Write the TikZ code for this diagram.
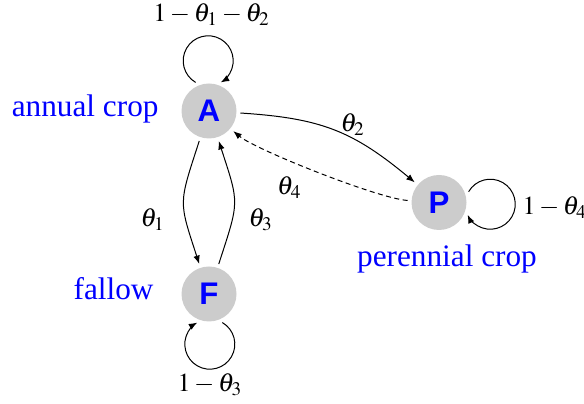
\documentclass[tikz,border=0pt]{standalone}
\usepackage{mathptmx}
\usepackage{fontspec}
\setmainfont{Liberation Serif}
\setsansfont{Liberation Sans}
\usetikzlibrary{arrows.meta}
\begin{document}
\begin{tikzpicture}[x=0.4pt,y=0.4pt,
  state/.style={circle, fill=black!20, minimum size=22pt, inner sep=0pt, outer sep=1.6pt,
    text=blue, font=\fontsize{12.5}{15}\selectfont\sffamily\bfseries},
  place/.style={text=blue, inner sep=0pt, font=\fontsize{12.5}{15}\selectfont},
  prob/.style={inner sep=0pt, font=\fontsize{10.4}{12}\selectfont},
  trans/.style={line width=0.4pt, -{Latex[length=3.4pt,width=2.6pt]}},
  back/.style={trans, dash pattern=on 2pt off 1.4pt}
]
\useasboundingbox (0,0) rectangle (584,404);
% states
\node[state] (A) at (209,293) {A};
\node[state] (F) at (209,110) {F};
\node[state] (P) at (439,201.5) {P};
% place labels
\node[place, anchor=base east] (lannual) at (159,287.5) {annual crop};
\node[place, anchor=base east] (lfallow) at (154,104) {fallow};
\node[place, anchor=base] (lperennial) at (447,137.3) {perennial crop};
% transitions
\draw[trans] (A) to[bend left=18, looseness=1.1] (P);
\draw[back] (P) to[bend left=18, looseness=0.4] (A);
\draw[trans] (A) to[bend right=18, looseness=1.4] (F);
\draw[trans] (F) to[bend right=18, looseness=1.4] (A);
% self loops
\draw[trans] (A.115) arc[start angle=240, end angle=-60, radius=10pt];
\draw[trans] (F.-65) arc[start angle=60, end angle=-240, radius=10pt];
\draw[trans] (P.20) arc[start angle=150, end angle=-155, radius=10pt];
% probabilities
\node[prob, anchor=base] (pAA) at (211.7,382.3) {$1-\theta_1-\theta_2$};
\node[prob, anchor=base] (pFF) at (210,12.3) {$1-\theta_3$};
\node[prob, anchor=base west] (pPP) at (522,189) {$1-\theta_4$};
\node[prob, anchor=base west] (pAF) at (140,177.3) {$\theta_1$};
\node[prob, anchor=base west] (pFA) at (248,177.3) {$\theta_3$};
\node[prob, anchor=base west] (pAP) at (340,272.3) {$\theta_2$};
\node[prob, anchor=base west] (pPA) at (276.7,209) {$\theta_4$};
\end{tikzpicture}
\end{document}
